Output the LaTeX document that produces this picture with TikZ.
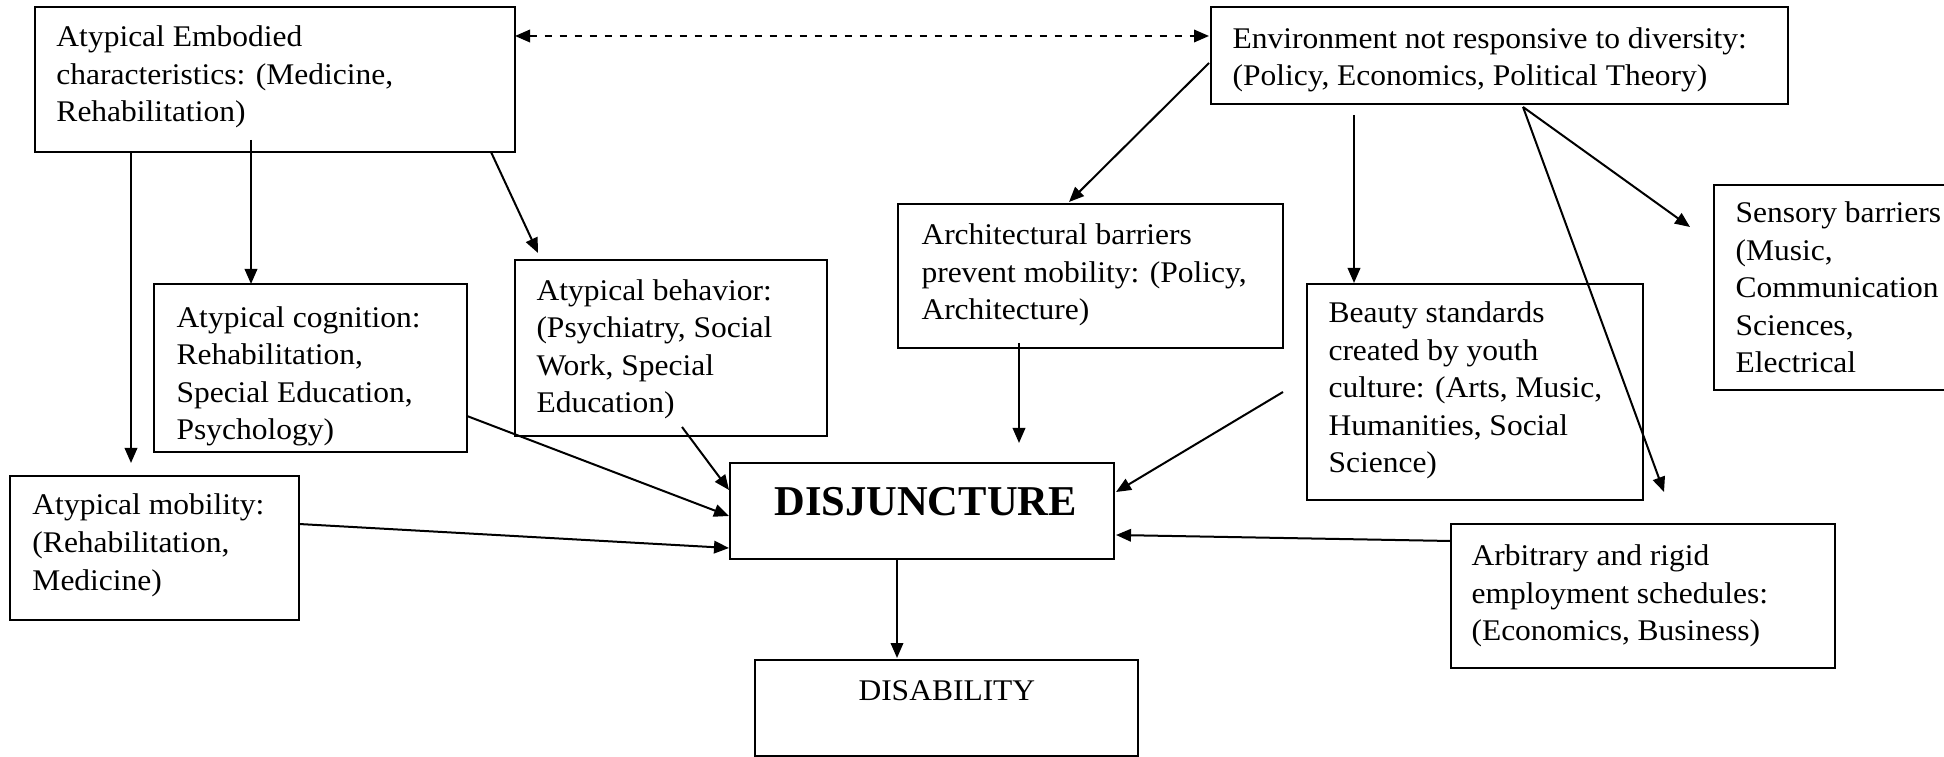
\documentclass[tikz,border=0pt]{standalone}
\usepackage{fontspec}
\setmainfont{Liberation Serif}[FakeStretch=1.05]
\newfontfamily\headfont{Liberation Serif}
\usepackage{tikz}
\usetikzlibrary{positioning,calc,arrows.meta}

\begin{document}
\begin{tikzpicture}[x=0.4pt,y=-0.4pt]
                    \tikzstyle{box}=[draw,rectangle,anchor=north west,inner sep=0,outer sep=0,line width=0.8pt]
                    \tikzstyle{txt}=[anchor=base west,align=left,inner sep=0,font=\fontsize{12}{15}\selectfont]
                    \tikzstyle{arr}=[->,>={Triangle[length=6pt,width=5pt]},line width=0.8pt]
                    {
                        \clip (0,0) rectangle (1944,757);

                        % boxes
                        \node[box,minimum width=192pt,minimum height=58pt] (emb) at (35,7) {};
                        \node[box,minimum width=230.8pt,minimum height=38.8pt] (env) at (1211,7) {};
                        \node[box,minimum width=125.2pt,minimum height=67.2pt] (cog) at (154,284) {};
                        \node[box,minimum width=124.8pt,minimum height=70.4pt] (beh) at (515,260) {};
                        \node[box,minimum width=154pt,minimum height=57.6pt] (arch) at (898,204) {};
                        \node[box,minimum width=134.4pt,minimum height=86.4pt] (beauty) at (1307,284) {};
                        \node[box,minimum width=114.4pt,minimum height=82pt] (sens) at (1714,185) {};
                        \node[box,minimum width=115.6pt,minimum height=57.6pt] (mob) at (10,476) {};
                        \node[box,minimum width=153.6pt,minimum height=38.4pt] (disj) at (730,463) {};
                        \node[box,minimum width=153.2pt,minimum height=38.4pt] (dis) at (755,660) {};
                        \node[box,minimum width=153.6pt,minimum height=57.6pt] (arb) at (1451,524) {};

                        % texts (placed at the baseline of their last line)
                        \node[txt] (emb-t) at (56,122) {Atypical Embodied\\characteristics: (Medicine,\\Rehabilitation)};
                        \node[txt] (env-t) at (1232,86) {Environment not responsive to diversity:\\(Policy, Economics, Political Theory)};
                        \node[txt] (cog-t) at (176,440) {Atypical cognition:\\Rehabilitation,\\Special Education,\\Psychology)};
                        \node[txt] (beh-t) at (536,413) {Atypical behavior:\\(Psychiatry, Social\\Work, Special\\Education)};
                        \node[txt] (arch-t) at (921,320) {Architectural barriers\\prevent mobility: (Policy,\\Architecture)};
                        \node[txt] (beauty-t) at (1328,473) {Beauty standards\\created by youth\\culture: (Arts, Music,\\Humanities, Social\\Science)};
                        \node[txt] (sens-t) at (1735,373) {Sensory barriers\\(Music,\\Communication\\Sciences,\\Electrical};
                        \node[txt] (mob-t) at (32,590) {Atypical mobility:\\(Rehabilitation,\\Medicine)};
                        \node[txt,font=\headfont\fontsize{17}{20}\selectfont\bfseries] (disj-t) at (774,516) {DISJUNCTURE};
                        \node[txt] (dis-t) at (858,700) {DISABILITY};
                        \node[txt] (arb-t) at (1471,641) {Arbitrary and rigid\\employment schedules:\\(Economics, Business)};

                        % connectors
                        \draw[arr,<->,dashed] ([shift={(0,29)}]emb.north east) -- ([shift={(-2,29)}]env.north west);
                        \draw[arr] ([shift={(96,0)}]emb.south west) -- ([shift={(121,-13)}]mob.north west);
                        \draw[arr] ([shift={(216,-12)}]emb.south west) -- ([shift={(97,0)}]cog.north west);
                        \draw[arr] ([shift={(-24,0)}]emb.south east) -- ([shift={(23,-7)}]beh.north west);
                        \draw[arr] ([shift={(-2,56)}]env.north west) -- ([shift={(171,-2)}]arch.north west);
                        \draw[arr] ([shift={(143,11)}]env.south west) -- ([shift={(47,-1)}]beauty.north west);
                        \draw[arr] ([shift={(312,3)}]env.south west) -- ([shift={(-24,42)}]sens.north west);
                        \draw[arr] ([shift={(312,3)}]env.south west) -- ([shift={(213,-32)}]arb.north west);
                        \draw[arr] ([shift={(121,-5)}]arch.south west) -- ([shift={(289,-20)}]disj.north west);
                        \draw[arr] ([shift={(-24,-108)}]beauty.south west) -- ([shift={(2,29)}]disj.north east);
                        \draw[arr] ([shift={(0,17)}]arb.north west) -- ([shift={(2,72)}]disj.north east);
                        \draw[arr] ([shift={(0,-36)}]cog.south east) -- ([shift={(-1,53)}]disj.north west);
                        \draw[arr] ([shift={(167,-9)}]beh.south west) -- ([shift={(-1,27)}]disj.north west);
                        \draw[arr] ([shift={(0,48)}]mob.north east) -- ([shift={(-1,85)}]disj.north west);
                        \draw[arr] ([shift={(167,0)}]disj.south west) -- ([shift={(142,-2)}]dis.north west);
                    }
\end{tikzpicture}
\end{document}
